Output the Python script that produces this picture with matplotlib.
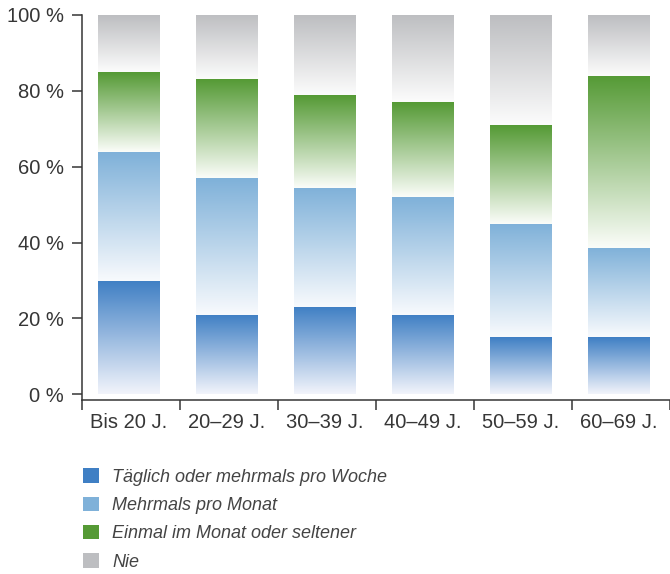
import numpy as np
import matplotlib
matplotlib.use("Agg")
import matplotlib.pyplot as plt
from matplotlib.colors import LinearSegmentedColormap, to_rgb
from matplotlib.patches import Patch

# Share of respondents per age group (percent, stacked)
categories = ["Bis 20 J.", "20–29 J.", "30–39 J.", "40–49 J.", "50–59 J.", "60–69 J."]
series_names = [
    "Täglich oder mehrmals pro Woche",
    "Mehrmals pro Monat",
    "Einmal im Monat oder seltener",
    "Nie",
]
taeglich = [30, 21, 23, 21, 15, 15]
mehrmals_monat = [34, 36, 31.5, 31, 30, 23.5]
einmal_seltener = [21, 26, 24.5, 25, 26, 45.5]
nie = [15, 17, 21, 23, 29, 16]
series_values = [taeglich, mehrmals_monat, einmal_seltener, nie]
top_colors = ["#3f7fc4", "#7fb1d9", "#559a35", "#bdbec1"]
bottom_colors = ["#f2f4fb", "#f8fafd", "#fbfdf9", "#fcfcfc"]

TEXT = "#363636"
plt.rcParams["font.family"] = ["Liberation Sans", "DejaVu Sans"]

fig = plt.figure(figsize=(6.70, 5.74), dpi=100)
ax = fig.add_axes([82 / 670, 1 - 400 / 574, 1 - 82 / 670, (400 - 15) / 574])

x = np.arange(len(categories)) + 0.48
width = 0.63
bottom = np.zeros(len(categories))
gradient = np.linspace(0, 1, 256).reshape(-1, 1)

for vals, c_top, c_bot in zip(series_values, top_colors, bottom_colors):
    vals = np.asarray(vals, dtype=float)
    bars = ax.bar(x, vals, width, bottom=bottom, color="none", edgecolor="none")
    cmap = LinearSegmentedColormap.from_list("g", [to_rgb(c_bot), to_rgb(c_top)])
    for patch in bars:
        x0, y0 = patch.get_x(), patch.get_y()
        w, h = patch.get_width(), patch.get_height()
        ax.imshow(gradient, cmap=cmap, origin="lower", aspect="auto",
                  extent=(x0, x0 + w, y0, y0 + h), interpolation="bilinear",
                  zorder=2)
    bottom += vals

ax.set_xlim(0, len(categories))
ax.set_ylim(-1.5, 100)

# category boundaries as ticks, labels centred under each bar
ax.set_xticks(np.arange(len(categories) + 1))
ax.set_xticklabels([])
ax.set_xticks(x, minor=True)
ax.set_xticklabels(categories, minor=True)
ax.tick_params(axis="x", which="major", length=7, width=1.1, color=TEXT, direction="out")
ax.tick_params(axis="x", which="minor", length=0, pad=9, labelsize=14.5, labelcolor=TEXT)

yt = [0, 20, 40, 60, 80, 100]
ax.set_yticks(yt)
ax.set_yticklabels([f"{v} %" for v in yt])
ax.tick_params(axis="y", length=7, width=1.1, color=TEXT, labelsize=14.5,
               labelcolor=TEXT, pad=6)

for s in ["top", "right"]:
    ax.spines[s].set_visible(False)
for s in ["left", "bottom"]:
    ax.spines[s].set_color(TEXT)
    ax.spines[s].set_linewidth(1.1)
ax.spines["bottom"].set_position(("data", -1.5))

handles = [Patch(facecolor=c, edgecolor="none") for c in top_colors]
fig.legend(handles, series_names, loc="upper left",
           bbox_to_anchor=(67 / 670, 1 - 452 / 574), frameon=False,
           prop={"style": "italic", "size": 13}, labelcolor="#444444",
           handlelength=0.85, handleheight=0.85, handletextpad=0.75,
           labelspacing=0.6)

fig.savefig("out.png", dpi=100)
